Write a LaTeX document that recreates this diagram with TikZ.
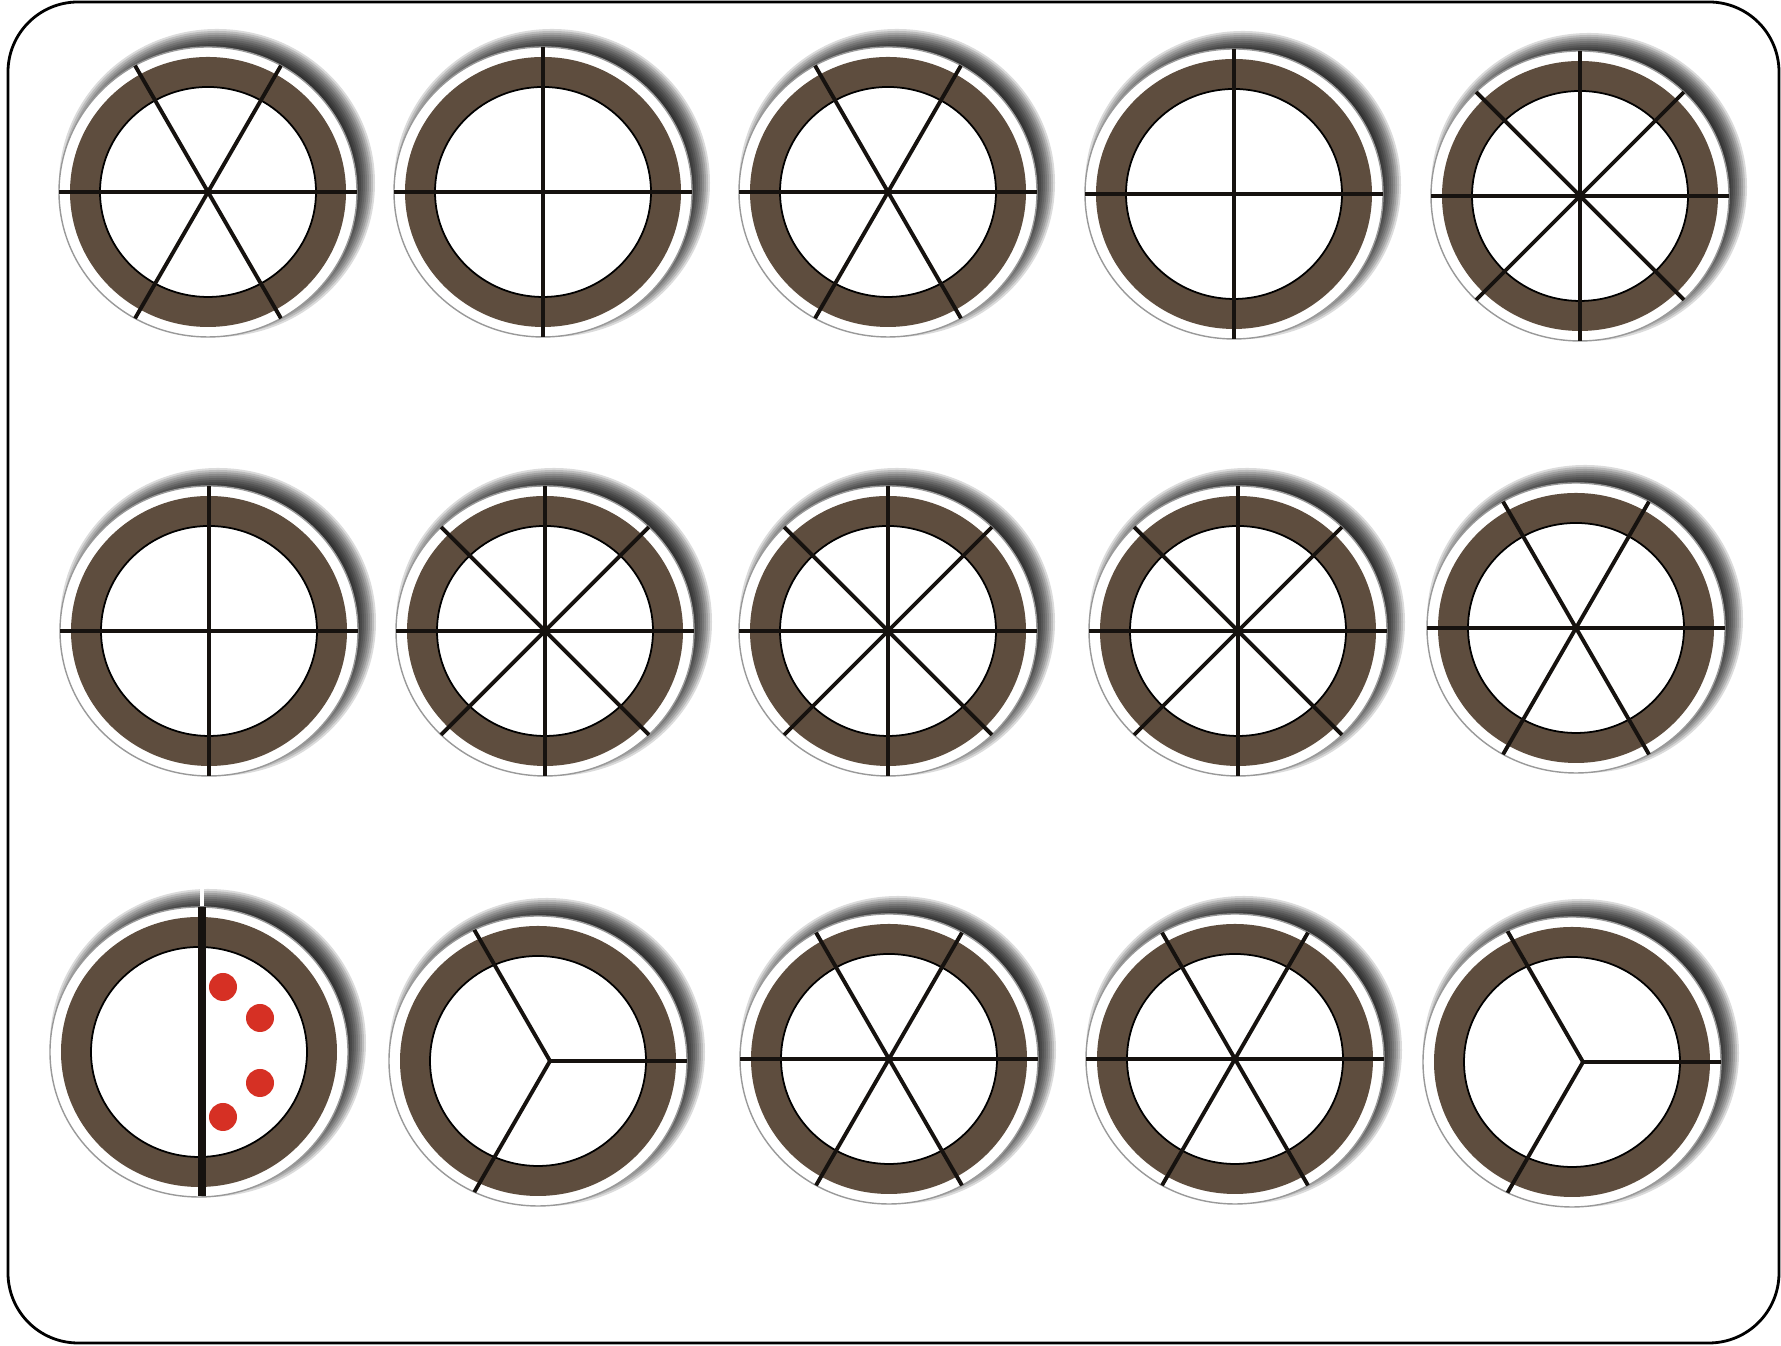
\documentclass[tikz,border=0pt]{standalone}
\usepackage{xcolor}
\definecolor{woodbrown}{RGB}{94,77,62}
\definecolor{dotred}{RGB}{214,48,36}
\definecolor{spokeblack}{RGB}{22,18,15}

% plate with shadow, white rim, brown ring and white hub
\newcommand{\wheelbase}[2]{%
  \foreach \k in {0,...,11}
    \fill[black, opacity=0.14] (#1+9,#2+9) ellipse [x radius=158-2*\k, y radius=154-2*\k];
  \filldraw[rim] (#1,#2) ellipse [x radius=149, y radius=145];
  \fill[woodbrown] (#1,#2) ellipse [x radius=138, y radius=135];
  \filldraw[hub] (#1,#2) ellipse [x radius=108, y radius=105];
}

\begin{document}
\begin{tikzpicture}[
  x=0.01cm, y=0.01cm,
  frame/.style={draw=black, line width=0.8pt, rounded corners=0.7cm, fill=white},
  rim/.style={fill=white, draw=gray!80, line width=0.4pt},
  hub/.style={fill=white, draw=black, line width=0.5pt},
  spoke/.style={draw=spokeblack, line width=1.1pt},
  bar/.style={draw=spokeblack, line width=2pt},
  dot/.style={fill=dotred}
]
\useasboundingbox (0,0) rectangle (1781,1346);
\draw[frame] (8,3) rectangle (1779,1344);

% wheels cut into 4, 6 or 8 pieces
\foreach \cx/\cy/\angs in {208/1154/{0,60,120}, 543/1154/{0,90}, 888/1154/{0,60,120},
    1234/1152/{0,90}, 1580/1150/{0,45,90,135},
    209/715/{0,90}, 545/715/{0,45,90,135}, 888/715/{0,45,90,135},
    1238/715/{0,45,90,135}, 1576/718/{0,60,120},
    889/287/{0,60,120}, 1235/287/{0,60,120}}{
  \wheelbase{\cx}{\cy}
  \begin{scope}
    \clip (\cx,\cy) ellipse [x radius=149, y radius=145];
    \foreach \a in \angs
      \draw[spoke] (\cx,\cy) ++(\a:-200) -- ++(\a:400);
  \end{scope}
}

% wheels cut into 3 pieces
\foreach \cx/\cy/\sx in {538/285/12, 1572/284/11}{
  \wheelbase{\cx}{\cy}
  \begin{scope}
    \clip (\cx,\cy) ellipse [x radius=149, y radius=145];
    \foreach \a in {0,120,240}
      \draw[spoke] (\cx+\sx,\cy) -- ++(\a:200);
  \end{scope}
}

% half wheel with dots
\wheelbase{199}{294}
\draw[white, line width=1.2pt] (202,440) -- (202,458);
\begin{scope}
  \clip (199,294) ellipse [x radius=149, y radius=145];
  \draw[bar] (202,150) -- (202,440);
\end{scope}
\foreach \dx/\dy in {24/65, 61/34, 61/-31, 24/-65}
  \fill[dot] (199+\dx,294+\dy) circle [radius=14];
\end{tikzpicture}
\end{document}
